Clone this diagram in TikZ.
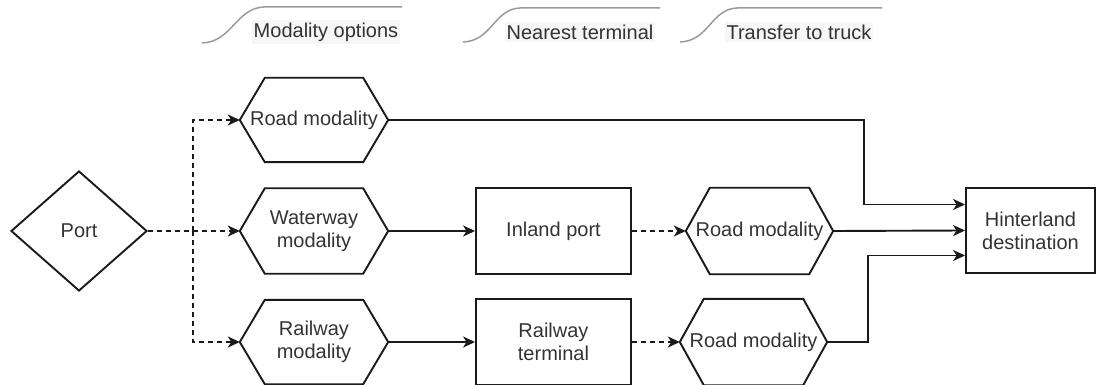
\documentclass[tikz,border=0pt]{standalone}
\usepackage{fontspec}
\setmainfont{Liberation Sans}
\usetikzlibrary{shapes.geometric,arrows.meta,calc}
\definecolor{txt}{HTML}{333333}
\definecolor{edge}{HTML}{1A1A1A}
\definecolor{hdrline}{HTML}{9A9A9A}
\definecolor{hdrbg}{HTML}{F6F6F8}
\newcommand{\hexoutline}[2]{%
  \draw[shapeline] (#1.west) -- ([xshift=#2]#1.north west) -- ([xshift=-#2]#1.north east)
    -- (#1.east) -- ([xshift=-#2]#1.south east) -- ([xshift=#2]#1.south west) -- cycle;}
\begin{document}
\begin{tikzpicture}[x=1pt,y=-1pt,
  lbl/.style={font=\fontsize{20}{23}\selectfont, text=txt, align=center, inner sep=0pt},
  shapeline/.style={draw=edge, line width=1.9pt, line join=miter},
  boxnode/.style={lbl, draw=edge, line width=1.9pt, rectangle},
  hexnode/.style={lbl, draw=none, rectangle},
  flow/.style={draw=edge, line width=1.9pt, -{Stealth[length=12pt,width=11pt,inset=3.5pt]}},
  dflow/.style={flow, dash pattern=on 5pt off 4pt},
  hdr/.style={draw=hdrline, line width=1.5pt},
  hdrtext/.style={lbl, fill=hdrbg, inner xsep=2pt, inner ysep=3pt}]
\useasboundingbox (0,0) rectangle (1096,385);

% nodes
\node[lbl, draw=edge, line width=1.9pt, shape=diamond, minimum width=136pt, minimum height=120pt] (port) at (79,231) {Port};
\node[hexnode, minimum width=148pt, minimum height=84pt] (road1) at (314,120) {Road modality};
\node[hexnode, minimum width=148pt, minimum height=85pt] (water) at (314,231) {Waterway\\modality};
\node[hexnode, minimum width=148pt, minimum height=84pt] (rail) at (314,342) {Railway\\modality};
\node[boxnode, minimum width=155pt, minimum height=86pt] (inland) at (553.5,231) {Inland port};
\node[boxnode, minimum width=155pt, minimum height=86pt] (railterm) at (553.5,342) {Railway\\terminal};
\node[hexnode, minimum width=147pt, minimum height=86pt] (road2) at (759.5,231) {Road modality};
\node[hexnode, minimum width=147pt, minimum height=86pt] (road3) at (753.5,342) {Road modality};
\node[boxnode, minimum width=129pt, minimum height=85pt] (hinter) at (1030.5,230.5) {Hinterland\\destination};

\hexoutline{road1}{25pt}
\hexoutline{water}{25pt}
\hexoutline{rail}{25pt}
\hexoutline{road2}{24pt}
\hexoutline{road3}{24pt}

% connectors
\coordinate (split) at (193,231);
\coordinate (bendtop) at (864,120);
\coordinate (bendbot) at (868,342);
\draw[dflow] (port.east) -- (water.west);
\draw[dflow] (split) |- (road1.west);
\draw[dflow] (split) |- (rail.west);
\draw[flow] (water.east) -- (inland.west);
\draw[flow] (rail.east) -- (railterm.west);
\draw[dflow] (inland.east) -- (road2.west);
\draw[dflow] (railterm.east) -- (road3.west);
\draw[flow] (road1.east) -- (bendtop) |- ([yshift=26pt]hinter.west);
\draw[flow] (road2.east) -- (hinter.west);
\draw[flow] (road3.east) -- (bendbot) |- ([yshift=-25pt]hinter.west);

% column headers
\draw[hdr] (202,43) .. controls (232,42) and (236,8) .. (264,7) -- (402,7);
\node[hdrtext] (hmod) at (326,32) {Modality options};
\draw[hdr] (463,42) .. controls (492,41) and (494,9) .. (520,8) -- (660,8);
\node[hdrtext] (hnear) at (580,32) {Nearest terminal};
\draw[hdr] (680,42) .. controls (709,41) and (711,9) .. (737,8) -- (882,8);
\node[hdrtext] (htrans) at (799,32) {Transfer to truck};
\end{tikzpicture}
\end{document}
